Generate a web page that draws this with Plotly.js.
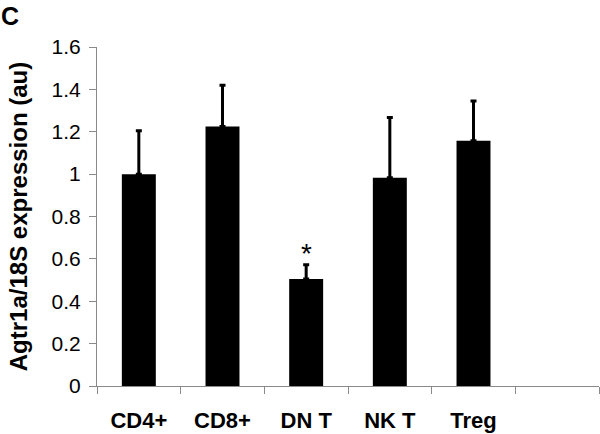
<!DOCTYPE html>
<html>
<head>
<meta charset="utf-8">
<script src="https://cdn.plot.ly/plotly-3.0.1.min.js"></script>
<style>html,body{margin:0;padding:0;background:#fff;}#chart{width:600px;height:434px;}</style>
</head>
<body>
<div id="chart"></div>
<script>
var categories = ['CD4+', 'CD8+', 'DN T', 'NK T', 'Treg', ' '];
var expression = [1.00, 1.225, 0.505, 0.983, 1.158, null];
var sem = [0.205, 0.195, 0.067, 0.284, 0.187, null];
var significant = ['DN T'];
var yTicks = [0, 0.2, 0.4, 0.6, 0.8, 1, 1.2, 1.4, 1.6];

var FONT = 'Arial, "Liberation Sans", sans-serif';
var AXIS_GRAY = '#8a8a8a';

var trace = {
  type: 'bar',
  x: categories,
  y: expression,
  marker: {color: '#000000', line: {width: 0}},
  error_y: {
    type: 'data', symmetric: false,
    array: sem, arrayminus: sem.map(function(){return 0;}),
    color: '#000000', thickness: 3, width: 3
  },
  hoverinfo: 'x+y'
};

var annotations = significant.map(function(c){
  var i = categories.indexOf(c);
  return {
    x: c, y: expression[i] + sem[i], xref: 'x', yref: 'y',
    text: '*', showarrow: false, yanchor: 'bottom', yshift: -6,
    font: {family: FONT, size: 28, color: '#000'}
  };
});
annotations.push({
  xref: 'paper', yref: 'paper', x: -0.195, y: 1.14,
  xanchor: 'left', yanchor: 'top', text: '<b>C</b>', showarrow: false,
  font: {family: FONT, size: 25, color: '#000'}
});

var layout = {
  width: 600, height: 434,
  margin: {l: 97, r: 1, t: 46.5, b: 47.5, pad: 0},
  paper_bgcolor: '#ffffff', plot_bgcolor: '#ffffff',
  showlegend: false,
  bargap: 0.594,
  xaxis: {
    type: 'category',
    categoryorder: 'array', categoryarray: categories,
    range: [-0.5, categories.length - 0.5],
    tickson: 'boundaries',
    ticks: 'outside', ticklen: 7, tickwidth: 1, tickcolor: AXIS_GRAY,
    showline: true, linecolor: AXIS_GRAY, linewidth: 1,
    showgrid: false, zeroline: false,
    ticklabelstandoff: 15,
    tickfont: {family: FONT, size: 22, color: '#000', weight: 'bold'}
  },
  yaxis: {
    range: [0, 1.6],
    tickvals: yTicks,
    ticktext: yTicks.map(function(v){return String(v);}),
    ticks: 'outside', ticklen: 7, tickwidth: 1, tickcolor: AXIS_GRAY,
    showline: true, linecolor: AXIS_GRAY, linewidth: 1,
    showgrid: false, zeroline: false,
    ticklabelstandoff: 4,
    tickfont: {family: FONT, size: 21, color: '#000'},
    title: {
      text: '<b>Agtr1a/18S expression (au)</b>',
      font: {family: FONT, size: 24, color: '#000'},
      standoff: 17
    }
  },
  annotations: annotations
};

Plotly.newPlot('chart', [trace], layout, {displayModeBar: false, staticPlot: true});
</script>
</body>
</html>
